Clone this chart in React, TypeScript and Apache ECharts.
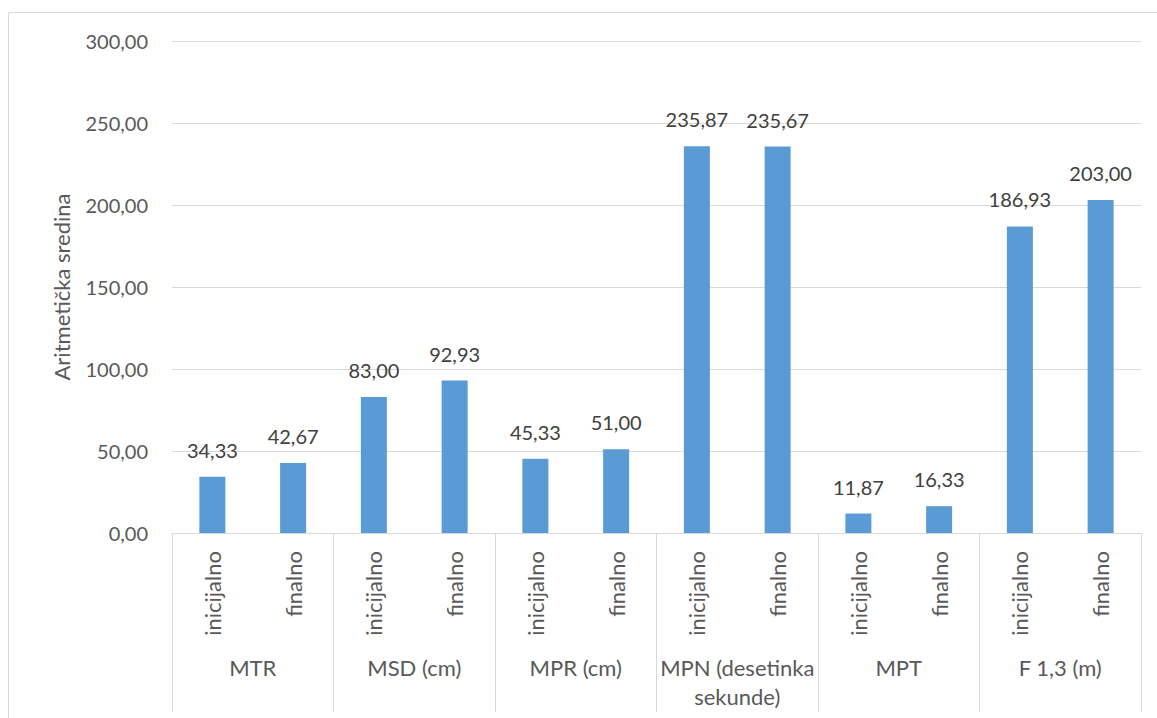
import React, { useEffect, useRef } from "react";
import * as echarts from "echarts";

const groups = ["MTR", "MSD (cm)", "MPR (cm)", "MPN (desetinka\nsekunde)", "MPT", "F 1,3 (m)"];
const phases = ["inicijalno", "finalno"];
const values = [34.33, 42.67, 83.0, 92.93, 45.33, 51.0, 235.87, 235.67, 11.87, 16.33, 186.93, 203.0];
const yMin = 0;
const yMax = 300;
const yInterval = 50;
const yTitle = "Aritmetička sredina";

const fmt = (v: number) => v.toFixed(2).replace(".", ",");

export default function App() {
  const ref = useRef<HTMLDivElement>(null);
  useEffect(() => {
    if (!ref.current) return;
    const chart = echarts.init(ref.current, null, { renderer: "svg" });
    const cats: string[] = [];
    groups.forEach(() => phases.forEach((p) => cats.push(p)));
    const font = "Lato";
    const grey = "#595959";
    const lineC = "#d9d9d9";
    chart.setOption({
      animation: false,
      backgroundColor: "#ffffff",
      textStyle: { fontFamily: font },
      grid: { left: 172, right: 16, top: 41, bottom: 185, containLabel: false },
      graphic: [
        {
          type: "rect",
          shape: { x: 8.5, y: 12.5, width: 1300, height: 900 },
          style: { fill: "none", stroke: lineC, lineWidth: 1 },
          silent: true,
        },
      ],
      xAxis: [
        {
          type: "category",
          data: cats,
          position: "bottom",
          axisLine: { show: true, lineStyle: { color: lineC, width: 1 } },
          axisTick: { show: false },
          axisLabel: {
            rotate: 90,
            interval: 0,
            margin: 18,
            color: grey,
            fontSize: 22,
            fontFamily: font,
          },
        },
        {
          type: "category",
          data: groups,
          position: "bottom",
          axisLine: { show: false },
          axisTick: { show: true, length: 179, lineStyle: { color: lineC, width: 1 } },
          axisLabel: {
            interval: 0,
            margin: 120,
            color: grey,
            fontSize: 22,
            lineHeight: 29,
            fontFamily: font,
          },
        },
      ],
      yAxis: {
        type: "value",
        min: yMin,
        max: yMax,
        interval: yInterval,
        name: yTitle,
        nameLocation: "middle",
        nameGap: 100,
        nameTextStyle: { color: grey, fontSize: 22, fontFamily: font },
        axisLine: { show: false },
        axisTick: { show: false },
        splitLine: { lineStyle: { color: lineC, width: 1 } },
        axisLabel: {
          margin: 24,
          color: grey,
          fontSize: 20,
          fontFamily: font,
          formatter: (v: number) => fmt(v),
        },
      },
      series: [
        {
          type: "bar",
          xAxisIndex: 0,
          data: values,
          barWidth: 26,
          itemStyle: { color: "#5b9bd5" },
          label: {
            show: true,
            position: "top",
            distance: 17,
            color: "#404040",
            fontSize: 20,
            fontFamily: font,
            formatter: (p: any) => fmt(p.value),
          },
        },
      ],
    });
    return () => chart.dispose();
  }, []);
  return (
    <div
      ref={ref}
      style={{ position: "absolute", left: 0, top: 0, width: 1157, height: 718 }}
    />
  );
}
